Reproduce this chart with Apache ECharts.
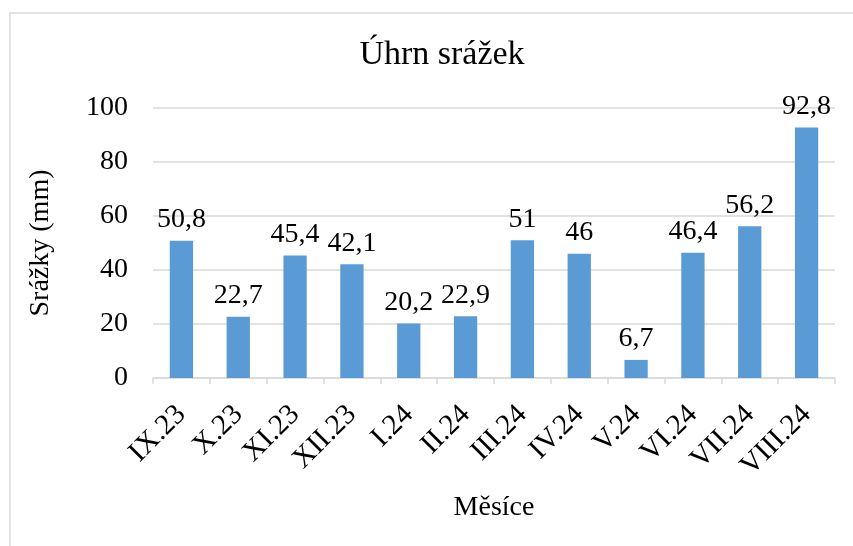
<!DOCTYPE html>
<html>
<head>
<meta charset="utf-8">
<script src="https://cdn.jsdelivr.net/npm/echarts@6/dist/echarts.min.js"></script>
<style>
  html, body { margin: 0; padding: 0; background: #fff; }
  #chart { width: 853px; height: 546px; }
</style>
</head>
<body>
<div id="chart"></div>
<script>
// data
const months = ['IX.23', 'X.23', 'XI.23', 'XII.23', 'I.24', 'II.24', 'III.24', 'IV.24', 'V.24', 'VI.24', 'VII.24', 'VIII.24'];
const srazky = [50.8, 22.7, 45.4, 42.1, 20.2, 22.9, 51, 46, 6.7, 46.4, 56.2, 92.8];
const yTicks = [0, 20, 40, 60, 80, 100];

const font = '"Liberation Serif", "Times New Roman", serif';
const gray = '#d9d9d9';

const myChart = echarts.init(document.getElementById('chart'));

const option = {
  animation: false,
  textStyle: { fontFamily: font },
  title: {
    text: 'Úhrn srážek',
    left: 437,
    textAlign: 'center',
    top: 33,
    textStyle: { fontFamily: font, fontSize: 34, fontWeight: 'normal', color: '#000' }
  },
  graphic: [{
    type: 'rect',
    shape: { x: 10, y: 13, width: 900, height: 600 },
    style: { fill: 'none', stroke: gray, lineWidth: 1.5 },
    silent: true
  }],
  grid: { left: 153, right: 18, top: 108, bottom: 168 },
  xAxis: {
    type: 'category',
    data: months,
    name: 'Měsíce',
    nameLocation: 'middle',
    nameGap: 116,
    nameTextStyle: { fontFamily: font, fontSize: 28, color: '#000' },
    axisLine: { lineStyle: { color: gray, width: 1.5 } },
    axisTick: { show: true, length: 6, lineStyle: { color: gray, width: 1.5 } },
    axisLabel: { rotate: 45, interval: 0, margin: 32, fontFamily: font, fontSize: 29, color: '#000' }
  },
  yAxis: {
    type: 'value',
    min: yTicks[0],
    max: yTicks[yTicks.length - 1],
    interval: 20,
    name: 'Srážky (mm)',
    nameLocation: 'middle',
    nameGap: 98,
    nameTextStyle: { fontFamily: font, fontSize: 28, color: '#000' },
    axisLine: { show: false },
    axisTick: { show: false },
    splitLine: { lineStyle: { color: gray, width: 1.5 } },
    axisLabel: { margin: 25, fontFamily: font, fontSize: 28, color: '#000' }
  },
  series: [{
    type: 'bar',
    data: srazky,
    barCategoryGap: '59%',
    itemStyle: { color: '#5b9bd5' },
    label: {
      show: true,
      position: 'top',
      distance: 7,
      fontFamily: font,
      fontSize: 28,
      color: '#000',
      formatter: p => String(p.value).replace('.', ',')
    }
  }]
};

myChart.setOption(option);
</script>
</body>
</html>
